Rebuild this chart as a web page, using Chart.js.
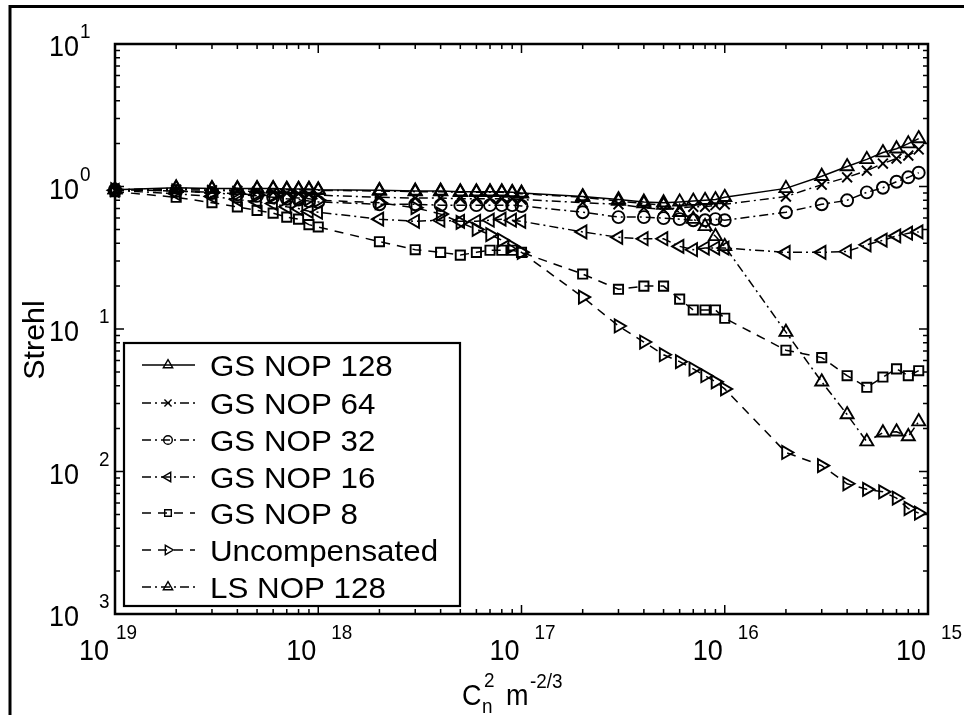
<!DOCTYPE html>
<html>
<head>
<meta charset="utf-8">
<style>
  html, body { margin: 0; padding: 0; background: #fff; }
  #wrap { width: 964px; height: 715px; }
</style>
<script src="https://cdn.jsdelivr.net/npm/chart.js@4.4.0/dist/chart.umd.min.js"></script>
</head>
<body>
<div id="wrap"><canvas id="myChart" width="964" height="715"></canvas></div>
<script>
// Cn2 values (m^-2/3), one per simulation point
const cn2 = [
  1e-19, 2e-19, 3e-19, 4e-19, 5e-19, 6e-19, 7e-19, 8e-19, 9e-19,
  1e-18, 2e-18, 3e-18, 4e-18, 5e-18, 6e-18, 7e-18, 8e-18, 9e-18,
  1e-17, 2e-17, 3e-17, 4e-17, 5e-17, 6e-17, 7e-17, 8e-17, 9e-17,
  1e-16, 2e-16, 3e-16, 4e-16, 5e-16, 6e-16, 7e-16, 8e-16, 9e-16
];

const gsNop128 = [
  0.95, 0.98, 0.97, 0.97, 0.97, 0.97, 0.96, 0.96, 0.96,
  0.95, 0.94, 0.93, 0.93, 0.92, 0.92, 0.92, 0.92, 0.91,
  0.90, 0.85, 0.81, 0.78, 0.77, 0.78, 0.79, 0.80, 0.81,
  0.84, 0.97, 1.18, 1.38, 1.55, 1.73, 1.84, 2.0, 2.17
];
const gsNop64 = [
  0.94, 0.95, 0.94, 0.93, 0.92, 0.91, 0.90, 0.89, 0.88,
  0.87, 0.84, 0.83, 0.83, 0.82, 0.82, 0.82, 0.82, 0.82,
  0.81, 0.77, 0.75, 0.71, 0.69, 0.71, 0.72, 0.72, 0.74,
  0.75, 0.85, 1.03, 1.16, 1.29, 1.45, 1.57, 1.65, 1.82
];
const gsNop32 = [
  0.95, 0.93, 0.90, 0.88, 0.86, 0.84, 0.82, 0.81, 0.79,
  0.78, 0.75, 0.75, 0.74, 0.74, 0.74, 0.74, 0.74, 0.74,
  0.73, 0.66, 0.61, 0.61, 0.60, 0.59, 0.58, 0.58, 0.59,
  0.58, 0.66, 0.75, 0.80, 0.91, 0.98, 1.08, 1.16, 1.25
];
const gsNop16 = [
  0.94, 0.89, 0.85, 0.81, 0.78, 0.76, 0.72, 0.70, 0.67,
  0.66, 0.59, 0.57, 0.58, 0.57, 0.57, 0.58, 0.59, 0.58,
  0.57, 0.48, 0.44, 0.43, 0.43, 0.38, 0.36, 0.37, 0.37,
  0.37, 0.345, 0.345, 0.35, 0.39, 0.42, 0.45, 0.47, 0.48
];
const gsNop8 = [
  0.92, 0.84, 0.77, 0.72, 0.68, 0.65, 0.61, 0.59, 0.54,
  0.52, 0.41, 0.36, 0.345, 0.33, 0.345, 0.357, 0.357, 0.357,
  0.345, 0.243, 0.19, 0.20, 0.20, 0.162, 0.136, 0.136, 0.136,
  0.119, 0.071, 0.063, 0.047, 0.039, 0.046, 0.0525, 0.047, 0.051
];
const uncompensated = [
  0.95, 0.93, 0.91, 0.89, 0.87, 0.86, 0.84, 0.83, 0.82,
  0.80, 0.77, 0.71, 0.64, 0.56, 0.50, 0.46, 0.42, 0.38,
  0.345, 0.1675, 0.105, 0.081, 0.066, 0.059, 0.0525, 0.047, 0.0426,
  0.038, 0.0136, 0.011, 0.0082, 0.0075, 0.0072, 0.0065, 0.0055, 0.0051
];
const lsNop128 = [
  0.95, 0.97, 0.96, 0.96, 0.96, 0.96, 0.95, 0.95, 0.95,
  0.94, 0.93, 0.92, 0.92, 0.91, 0.91, 0.91, 0.91, 0.90,
  0.89, 0.84, 0.79, 0.76, 0.74, 0.66, 0.59, 0.525, 0.447,
  0.38, 0.095, 0.0426, 0.0251, 0.0162, 0.0187, 0.019, 0.0176, 0.0224
];

const seriesNames = ["GS NOP 128", "GS NOP 64", "GS NOP 32", "GS NOP 16", "GS NOP 8", "Uncompensated", "LS NOP 128"];

// tick labels (the minus signs are missing in the original figure)
const xTickValues = [1e-19, 1e-18, 1e-17, 1e-16, 1e-15];
const xTickExponents = ["19", "18", "17", "16", "15"];
const yTickValues = [10, 1, 0.1, 0.01, 0.001];
const yTickExponents = ["1", "0", "1", "2", "3"];

const DASH = [9, 7];
const DASHDOT = [9, 4, 2, 4];
const styles = [
  { dash: [], pointStyle: "triangle", rotation: 0, radius: 7.5 },
  { dash: DASHDOT, pointStyle: "crossRot", rotation: 0, radius: 7 },
  { dash: DASHDOT, pointStyle: "circle", rotation: 0, radius: 6 },
  { dash: DASHDOT, pointStyle: "triangle", rotation: -90, radius: 7.5 },
  { dash: DASH, pointStyle: "rect", rotation: 0, radius: 6.5 },
  { dash: DASH, pointStyle: "triangle", rotation: 90, radius: 7.5 },
  { dash: DASHDOT, pointStyle: "triangle", rotation: 0, radius: 7.5 }
];
const allSeries = [gsNop128, gsNop64, gsNop32, gsNop16, gsNop8, uncompensated, lsNop128];

const datasets = allSeries.map((vals, i) => ({
  label: seriesNames[i],
  data: vals.map((v, j) => ({ x: cn2[j], y: v })),
  showLine: true,
  borderColor: "#000",
  borderWidth: 1.5,
  borderDash: styles[i].dash,
  pointStyle: styles[i].pointStyle,
  rotation: styles[i].rotation,
  pointRadius: styles[i].radius,
  pointBorderWidth: 1.9,
  pointBorderColor: "#000",
  pointBackgroundColor: "rgba(0,0,0,0)",
  tension: 0,
  clip: false
}));

const FONT = '"Liberation Sans", Arial, Helvetica, sans-serif';

function txt(ctx, s, x, y, size, align, sx, sy) {
  ctx.save();
  ctx.translate(x, y);
  ctx.scale(sx || 1, sy || 1);
  ctx.font = size + "px " + FONT;
  ctx.textAlign = align || "left";
  ctx.textBaseline = "alphabetic";
  ctx.fillStyle = "#000";
  ctx.fillText(s, 0, 0);
  ctx.restore();
}

const framePlugin = {
  id: "frame",
  beforeDraw(chart) {
    const ctx = chart.ctx;
    ctx.save();
    ctx.fillStyle = "#fff";
    ctx.fillRect(0, 0, chart.width, chart.height);
    ctx.restore();
  },
  afterDraw(chart) {
    const ctx = chart.ctx;
    const a = chart.chartArea;
    const xs = chart.scales.x;
    const ys = chart.scales.y;
    ctx.save();
    ctx.strokeStyle = "#000";
    ctx.setLineDash([]);

    // ticks, inward on all four sides
    ctx.lineWidth = 1.5;
    ctx.beginPath();
    for (let k = -19; k <= -16; k++) {
      for (let m = 1; m <= 9; m++) {
        const px = xs.getPixelForValue(m * Math.pow(10, k));
        const len = m === 1 ? 9 : 5;
        ctx.moveTo(px, a.bottom); ctx.lineTo(px, a.bottom - len);
        ctx.moveTo(px, a.top); ctx.lineTo(px, a.top + len);
      }
    }
    for (let k = -3; k <= 0; k++) {
      for (let m = 1; m <= 9; m++) {
        const py = ys.getPixelForValue(m * Math.pow(10, k));
        const len = m === 1 ? 9 : 5;
        ctx.moveTo(a.left, py); ctx.lineTo(a.left + len, py);
        ctx.moveTo(a.right, py); ctx.lineTo(a.right - len, py);
      }
    }
    ctx.stroke();

    // axes box
    ctx.lineWidth = 2.5;
    ctx.strokeRect(a.left, a.top, a.right - a.left, a.bottom - a.top);

    // x tick labels
    xTickValues.forEach((v, i) => {
      const px = xs.getPixelForValue(v);
      if (i === 0) {
        txt(ctx, "10", px - 6, 660, 30, "right", 0.9, 1);
        txt(ctx, xTickExponents[i], px + 1, 639, 21, "left", 0.9, 1);
      } else {
        txt(ctx, "10", px - 2, 660, 30, "right", 0.9, 1);
        txt(ctx, xTickExponents[i], px + 13, 639, 21, "left", 0.9, 1);
      }
    });

    // y tick labels
    yTickValues.forEach((v, i) => {
      const py = ys.getPixelForValue(v);
      txt(ctx, "10", 79, py + 12, 30, "right", 0.9, 1);
      const ex = v < 1 ? 99 : 80;
      txt(ctx, yTickExponents[i], ex, py - 6, 21, "left", 0.9, 1);
    });

    // axis titles
    ctx.save();
    ctx.translate(44, 340);
    ctx.rotate(-Math.PI / 2);
    txt(ctx, "Strehl", 0, 0, 29, "center", 1.05, 1);
    ctx.restore();

    txt(ctx, "C", 462, 705, 30, "left", 0.9, 1);
    txt(ctx, "n", 482, 713, 21, "left", 0.9, 1);
    txt(ctx, "2", 484, 687, 21, "left", 0.9, 1);
    txt(ctx, "m", 506, 705, 30, "left", 0.9, 1);
    txt(ctx, "-2/3", 530, 688, 21, "left", 0.9, 1);

    // legend
    const lx = 124, ly = 343, lw = 336, lh = 263;
    ctx.fillStyle = "#fff";
    ctx.fillRect(lx, ly, lw, lh);
    ctx.lineWidth = 2.2;
    ctx.strokeRect(lx, ly, lw, lh);
    const rowY = [365, 403, 440, 477, 513, 550, 587];
    chart.data.datasets.forEach((ds, i) => {
      const y = rowY[i];
      ctx.save();
      ctx.lineWidth = 1.4;
      ctx.setLineDash(ds.borderDash);
      ctx.beginPath();
      ctx.moveTo(142, y); ctx.lineTo(195, y);
      ctx.stroke();
      ctx.setLineDash([]);
      ctx.fillStyle = "rgba(0,0,0,0)";
      ctx.strokeStyle = "#000";
      Chart.helpers.drawPoint(ctx, {
        pointStyle: ds.pointStyle,
        rotation: ds.rotation,
        radius: ds.pointRadius * 0.72,
        borderWidth: 1.6
      }, 168, y);
      ctx.restore();
      txt(ctx, ds.label, 210, y + 11, 29, "left", 1.08, 1);
    });

    // figure border (top and left only)
    ctx.lineWidth = 3;
    ctx.beginPath();
    ctx.moveTo(10, 715); ctx.lineTo(10, 6.5); ctx.lineTo(964, 6.5);
    ctx.stroke();
    ctx.restore();
  }
};

const ctx = document.getElementById("myChart");

new Chart(ctx, {
  type: "scatter",
  data: { datasets: datasets },
  options: {
    responsive: false,
    animation: false,
    layout: { padding: { left: 115, top: 44, right: 36, bottom: 101 } },
    scales: {
      x: { type: "logarithmic", min: 1e-19, max: 1e-15, display: false },
      y: { type: "logarithmic", min: 1e-3, max: 10, display: false }
    },
    plugins: {
      legend: { display: false },
      tooltip: { enabled: false }
    }
  },
  plugins: [framePlugin]
});
</script>
</body>
</html>
